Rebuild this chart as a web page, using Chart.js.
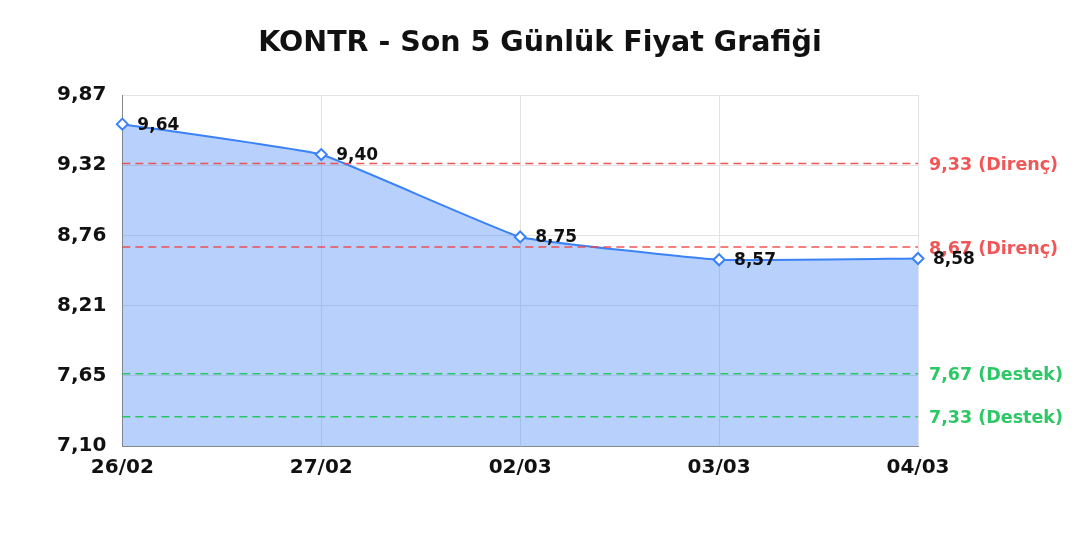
<!DOCTYPE html>
<html>
<head>
<meta charset="utf-8">
<script src="https://cdn.jsdelivr.net/npm/chart.js@4/dist/chart.umd.min.js"></script>
<style>
  html, body { margin: 0; padding: 0; background: #fff; }
</style>
</head>
<body>
<canvas id="grafik" width="1080" height="540"></canvas>
<script>
// veriler
const baslik = 'KONTR - Son 5 Günlük Fiyat Grafiği';
const tarihler = ['26/02', '27/02', '02/03', '03/03', '04/03'];
const fiyatlar = [9.64, 9.40, 8.75, 8.57, 8.58];
const direncSeviyeleri = [9.33, 8.67];
const destekSeviyeleri = [7.67, 7.33];
const eksenMin = 7.10;
const eksenMax = 9.87;
const tikSayisi = 6;

const virgul = v => v.toFixed(2).replace('.', ',');
const yaziTipi = '"DejaVu Sans", sans-serif';

// baslik tum genislige gore ortalansin
const baslikEklentisi = {
  id: 'baslik',
  afterDraw(chart) {
    const { ctx } = chart;
    ctx.save();
    ctx.fillStyle = '#111';
    ctx.font = 'bold 28.5px ' + yaziTipi;
    ctx.textAlign = 'center';
    ctx.textBaseline = 'middle';
    ctx.fillText(baslik, chart.width / 2, 44);
    ctx.restore();
  }
};

// destek/direnc cizgileri ve etiketleri
const seviyeEklentisi = {
  id: 'seviyeler',
  afterDatasetsDraw(chart) {
    const { ctx, chartArea, scales } = chart;
    const ciz = (deger, renk, metin) => {
      const y = scales.y.getPixelForValue(deger);
      ctx.save();
      ctx.strokeStyle = renk;
      ctx.lineWidth = 1.5;
      ctx.setLineDash([8, 5]);
      ctx.beginPath();
      ctx.moveTo(chartArea.left, y);
      ctx.lineTo(chartArea.right, y);
      ctx.stroke();
      ctx.setLineDash([]);
      ctx.fillStyle = renk;
      ctx.font = 'bold 17.5px ' + yaziTipi;
      ctx.textAlign = 'left';
      ctx.textBaseline = 'middle';
      ctx.fillText(virgul(deger) + ' ' + metin, chartArea.right + 11, y + 2);
      ctx.restore();
    };
    direncSeviyeleri.forEach(d => ciz(d, 'rgba(239,68,68,0.9)', '(Direnç)'));
    destekSeviyeleri.forEach(d => ciz(d, 'rgba(34,197,94,0.95)', '(Destek)'));

    // nokta etiketleri
    const meta = chart.getDatasetMeta(0);
    ctx.save();
    ctx.fillStyle = '#111';
    ctx.font = 'bold 17px ' + yaziTipi;
    ctx.textAlign = 'left';
    ctx.textBaseline = 'middle';
    meta.data.forEach((p, i) => {
      ctx.fillText(virgul(fiyatlar[i]), p.x + 15, p.y + 1);
    });
    ctx.restore();
  }
};

new Chart(document.getElementById('grafik').getContext('2d'), {
  type: 'line',
  data: {
    labels: tarihler,
    datasets: [{
      data: fiyatlar,
      borderColor: '#3b82f6',
      borderWidth: 2,
      backgroundColor: 'rgba(59,130,246,0.37)',
      fill: 'start',
      tension: 0.1,
      pointStyle: 'rectRot',
      pointRadius: 5.5,
      pointBorderWidth: 2,
      pointBackgroundColor: '#fff',
      pointBorderColor: '#3b82f6'
    }]
  },
  options: {
    responsive: false,
    animation: false,
    devicePixelRatio: 1,
    layout: { padding: { left: 41, right: 162, top: 95, bottom: 50 } },
    plugins: {
      legend: { display: false },
      tooltip: { enabled: false },
      title: { display: false }
    },
    scales: {
      x: {
        offset: false,
        grid: { color: '#e3e3e3', drawTicks: false },
        border: { color: '#888' },
        ticks: {
          color: '#111',
          padding: 10,
          maxRotation: 0,
          font: { family: yaziTipi, size: 20, weight: 'bold' }
        }
      },
      y: {
        min: eksenMin,
        max: eksenMax,
        grid: { color: '#e3e3e3', drawTicks: false },
        border: { color: '#888' },
        afterBuildTicks(ax) {
          const adim = (eksenMax - eksenMin) / (tikSayisi - 1);
          ax.ticks = [];
          for (let i = 0; i < tikSayisi; i++) ax.ticks.push({ value: eksenMin + i * adim });
        },
        ticks: {
          color: '#111',
          padding: 16,
          font: { family: yaziTipi, size: 20, weight: 'bold' },
          callback: v => virgul(v)
        }
      }
    }
  },
  plugins: [seviyeEklentisi, baslikEklentisi]
});
</script>
</body>
</html>
